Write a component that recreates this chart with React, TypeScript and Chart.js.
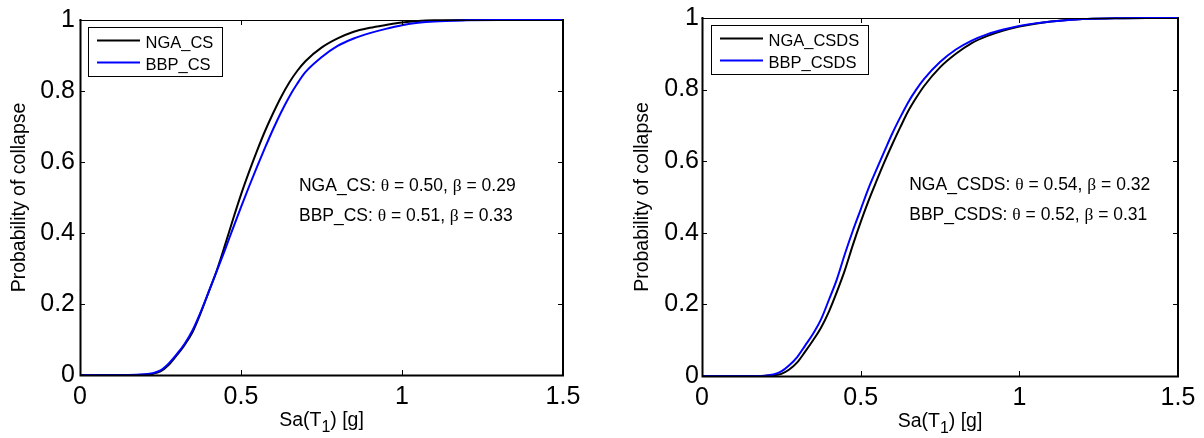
import React, { useEffect, useRef } from 'react';
import { Chart, registerables } from 'chart.js';

Chart.register(...registerables);

const FONT = '"Liberation Sans", Arial, Helvetica, sans-serif';
const SERIF = '"Liberation Serif", "Times New Roman", serif';

// ---- data ----
const saValues = [0, 0.05, 0.1, 0.15, 0.2, 0.225, 0.25, 0.275, 0.3, 0.325, 0.35, 0.375, 0.4, 0.425, 0.45, 0.475, 0.5, 0.525, 0.55, 0.575, 0.6, 0.625, 0.65, 0.675, 0.7, 0.75, 0.8, 0.85, 0.9, 0.95, 1.0, 1.05, 1.1, 1.2, 1.3, 1.4, 1.5];

const ngaCS = [0, 0, 0, 0, 0.001, 0.003, 0.01, 0.028, 0.055, 0.085, 0.122, 0.175, 0.235, 0.295, 0.365, 0.438, 0.508, 0.572, 0.632, 0.688, 0.738, 0.784, 0.824, 0.857, 0.884, 0.922, 0.948, 0.967, 0.978, 0.986, 0.993, 0.997, 0.999, 1, 1, 1, 1];
const bbpCS = [0, 0, 0, 0, 0.002, 0.005, 0.013, 0.032, 0.058, 0.088, 0.127, 0.178, 0.235, 0.293, 0.352, 0.413, 0.473, 0.531, 0.587, 0.641, 0.693, 0.741, 0.784, 0.821, 0.853, 0.895, 0.927, 0.948, 0.963, 0.975, 0.985, 0.992, 0.996, 0.999, 1, 1, 1];
const ngaCSDS = [0, 0, 0, 0, 0.001, 0.002, 0.006, 0.018, 0.038, 0.068, 0.1, 0.135, 0.18, 0.235, 0.295, 0.365, 0.43, 0.49, 0.545, 0.598, 0.648, 0.695, 0.74, 0.777, 0.81, 0.862, 0.9, 0.93, 0.95, 0.965, 0.976, 0.984, 0.99, 0.997, 0.999, 1, 1];
const bbpCSDS = [0, 0, 0, 0, 0.001, 0.004, 0.013, 0.03, 0.053, 0.085, 0.118, 0.158, 0.213, 0.27, 0.34, 0.405, 0.465, 0.525, 0.577, 0.628, 0.678, 0.723, 0.765, 0.8, 0.83, 0.877, 0.912, 0.937, 0.955, 0.968, 0.978, 0.985, 0.99, 0.997, 0.999, 1, 1];

const xTickValues = [0, 0.5, 1, 1.5];
const xTickLabels = ['0', '0.5', '1', '1.5'];
const yTickValues = [0, 0.2, 0.4, 0.6, 0.8, 1];
const yTickLabels = ['0', '0.2', '0.4', '0.6', '0.8', '1'];

const leftSeriesNames = ['NGA_CS', 'BBP_CS'];
const leftThetas = ['0.50', '0.51'];
const leftBetas = ['0.29', '0.33'];
const rightSeriesNames = ['NGA_CSDS', 'BBP_CSDS'];
const rightThetas = ['0.54', '0.52'];
const rightBetas = ['0.32', '0.31'];
const seriesColors = ['#000000', '#0000ff'];

const xTitleParts = ['Sa(T', '1', ') [g]'];
const yTitle = 'Probability of collapse';

type PanelCfg = {
  pageLeft: number;
  width: number;
  height: number;
  padding: { left: number; top: number; right: number; bottom: number };
  yAxisWidth: number;
  xAxisHeight: number;
  yTickPad: number;
  xTickPad: number;
  yTitlePad: number;
  names: string[];
  thetas: string[];
  betas: string[];
  series: number[][];
  annX: number;
  annY: number[];
  legendDx: number;
  legendDy: number;
};

const panels: PanelCfg[] = [
  {
    pageLeft: 0, width: 602, height: 438,
    padding: { left: 0, top: 16, right: 39, bottom: 0 },
    yAxisWidth: 80, xAxisHeight: 63, yTickPad: 5, xTickPad: 7, yTitlePad: 7.6,
    names: leftSeriesNames, thetas: leftThetas, betas: leftBetas, series: [ngaCS, bbpCS],
    annX: 0.68, annY: [0.517, 0.433], legendDx: 8, legendDy: 7,
  },
  {
    pageLeft: 602, width: 602, height: 438,
    padding: { left: 0, top: 17, right: 26, bottom: 0 },
    yAxisWidth: 100, xAxisHeight: 62, yTickPad: 3, xTickPad: 7, yTitlePad: 28.9,
    names: rightSeriesNames, thetas: rightThetas, betas: rightBetas, series: [ngaCSDS, bbpCSDS],
    annX: 0.653, annY: [0.52, 0.4365], legendDx: 9, legendDy: 7,
  },
];

function makeChart(canvas: HTMLCanvasElement, cfg: PanelCfg) {
  const decor = {
    id: 'decor',
    afterDraw(chart: any) {
      const ctx: CanvasRenderingContext2D = chart.ctx;
      const { left, right, top, bottom } = chart.chartArea;
      const xs = chart.scales.x;
      const ys = chart.scales.y;
      ctx.save();
      // axes box
      ctx.strokeStyle = '#000';
      ctx.lineCap = 'square';
      ctx.lineWidth = 1;
      ctx.beginPath();
      ctx.moveTo(left, top + 0.5);
      ctx.lineTo(right, top + 0.5);
      ctx.stroke();
      ctx.lineWidth = 2;
      ctx.beginPath();
      ctx.moveTo(left + 0.5, top);
      ctx.lineTo(left + 0.5, bottom + 0.5);
      ctx.lineTo(right, bottom + 0.5);
      ctx.moveTo(right, top);
      ctx.lineTo(right, bottom + 0.5);
      ctx.stroke();
      // inward ticks
      ctx.lineWidth = 1;
      ctx.lineCap = 'butt';
      const tl = 5;
      ctx.beginPath();
      xTickValues.forEach((v) => {
        const px = Math.round(xs.getPixelForValue(v)) + 0.5;
        ctx.moveTo(px, bottom);
        ctx.lineTo(px, bottom - tl);
        ctx.moveTo(px, top);
        ctx.lineTo(px, top + tl);
      });
      yTickValues.forEach((v) => {
        const py = Math.round(ys.getPixelForValue(v)) + 0.5;
        ctx.moveTo(left, py);
        ctx.lineTo(left + tl, py);
        ctx.moveTo(right, py);
        ctx.lineTo(right - tl, py);
      });
      ctx.stroke();

      // x-axis title with subscript
      const mainSize = 19.5;
      const subSize = 16;
      ctx.fillStyle = '#000';
      ctx.textBaseline = 'alphabetic';
      ctx.textAlign = 'left';
      ctx.font = `${mainSize}px ${FONT}`;
      const w0 = ctx.measureText(xTitleParts[0]).width;
      const w2 = ctx.measureText(xTitleParts[2]).width;
      ctx.font = `${subSize}px ${FONT}`;
      const w1 = ctx.measureText(xTitleParts[1]).width;
      const total = w0 + w1 + w2;
      let tx = (left + right) / 2 - total / 2;
      const base = bottom + 51;
      ctx.font = `${mainSize}px ${FONT}`;
      ctx.fillText(xTitleParts[0], tx, base);
      tx += w0;
      ctx.font = `${subSize}px ${FONT}`;
      ctx.fillText(xTitleParts[1], tx, base + 6);
      tx += w1;
      ctx.font = `${mainSize}px ${FONT}`;
      ctx.fillText(xTitleParts[2], tx, base);

      // annotations
      const annSize = 17.5;
      cfg.names.forEach((name, i) => {
        const segs = [
          { t: `${name}: `, serif: false },
          { t: '\u03B8', serif: true },
          { t: ` = ${cfg.thetas[i]}, `, serif: false },
          { t: '\u03B2', serif: true },
          { t: ` = ${cfg.betas[i]}`, serif: false },
        ];
        let ax = xs.getPixelForValue(cfg.annX);
        const ay = ys.getPixelForValue(cfg.annY[i]);
        segs.forEach((s) => {
          ctx.font = `${annSize}px ${s.serif ? SERIF : FONT}`;
          ctx.fillText(s.t, ax, ay);
          ax += ctx.measureText(s.t).width;
        });
      });

      // legend
      const legSize = 16.5;
      ctx.font = `${legSize}px ${FONT}`;
      const maxW = Math.max(...cfg.names.map((n) => ctx.measureText(n).width));
      const bx = left + cfg.legendDx;
      const by = top + cfg.legendDy;
      const bw = 57.5 + maxW + 8.5;
      const bh = 49;
      ctx.fillStyle = '#fff';
      ctx.fillRect(bx, by, bw, bh);
      ctx.strokeStyle = '#000';
      ctx.lineWidth = 1;
      ctx.strokeRect(Math.round(bx) + 0.5, Math.round(by) + 0.5, Math.round(bw), Math.round(bh));
      cfg.names.forEach((n, i) => {
        const ly = by + 13.5 + i * 22;
        ctx.strokeStyle = seriesColors[i];
        ctx.lineWidth = 2;
        ctx.beginPath();
        ctx.moveTo(bx + 9, ly);
        ctx.lineTo(bx + 52, ly);
        ctx.stroke();
        ctx.fillStyle = '#000';
        ctx.fillText(n, bx + 57.5, by + 21 + i * 22);
      });
      ctx.restore();
    },
  };

  return new Chart(canvas, {
    type: 'line',
    data: {
      datasets: cfg.series.map((s, i) => ({
        label: cfg.names[i],
        data: saValues.map((x, j) => ({ x, y: s[j] })),
        borderColor: seriesColors[i],
        backgroundColor: seriesColors[i],
        borderWidth: 2,
        pointRadius: 0,
        fill: false,
        cubicInterpolationMode: 'monotone' as const,
        clip: false as any,
        order: cfg.series.length - i,
      })),
    },
    options: {
      animation: false,
      responsive: false,
      devicePixelRatio: 1,
      events: [],
      layout: { padding: cfg.padding },
      plugins: {
        legend: { display: false },
        tooltip: { enabled: false },
        title: { display: false },
      },
      scales: {
        x: {
          type: 'linear',
          min: 0,
          max: 1.5,
          position: 'bottom',
          afterFit: (s: any) => { s.height = cfg.xAxisHeight; },
          afterBuildTicks: (s: any) => { s.ticks = xTickValues.map((v) => ({ value: v })); },
          grid: { display: false, drawTicks: false, tickLength: 0 },
          border: { display: false },
          ticks: {
            autoSkip: false,
            maxRotation: 0,
            minRotation: 0,
            padding: cfg.xTickPad,
            color: '#000',
            font: { size: 25, family: FONT },
            callback: (_v: any, i: number) => xTickLabels[i],
          },
        },
        y: {
          type: 'linear',
          min: 0,
          max: 1,
          position: 'left',
          afterFit: (s: any) => { s.width = cfg.yAxisWidth; },
          afterBuildTicks: (s: any) => { s.ticks = yTickValues.map((v) => ({ value: v })); },
          grid: { display: false, drawTicks: false, tickLength: 0 },
          border: { display: false },
          title: {
            display: true,
            text: yTitle,
            color: '#000',
            font: { size: 19.5, family: FONT },
            padding: { top: cfg.yTitlePad, bottom: 0 },
          },
          ticks: {
            autoSkip: false,
            padding: cfg.yTickPad,
            color: '#000',
            font: { size: 25, family: FONT },
            callback: (_v: any, i: number) => yTickLabels[i],
          },
        },
      },
    },
    plugins: [decor],
  } as any);
}

function Panel({ cfg }: { cfg: PanelCfg }) {
  const ref = useRef<HTMLCanvasElement | null>(null);
  useEffect(() => {
    if (!ref.current) return;
    const chart = makeChart(ref.current, cfg);
    return () => chart.destroy();
  }, [cfg]);
  return (
    <canvas
      ref={ref}
      width={cfg.width}
      height={cfg.height}
      style={{ position: 'absolute', left: cfg.pageLeft, top: 0, width: cfg.width, height: cfg.height, display: 'block' }}
    />
  );
}

export default function App() {
  return (
    <div style={{ position: 'fixed', left: 0, top: 0, width: 1204, height: 438, background: '#fff', overflow: 'hidden' }}>
      {panels.map((p, i) => (
        <Panel key={i} cfg={p} />
      ))}
    </div>
  );
}
